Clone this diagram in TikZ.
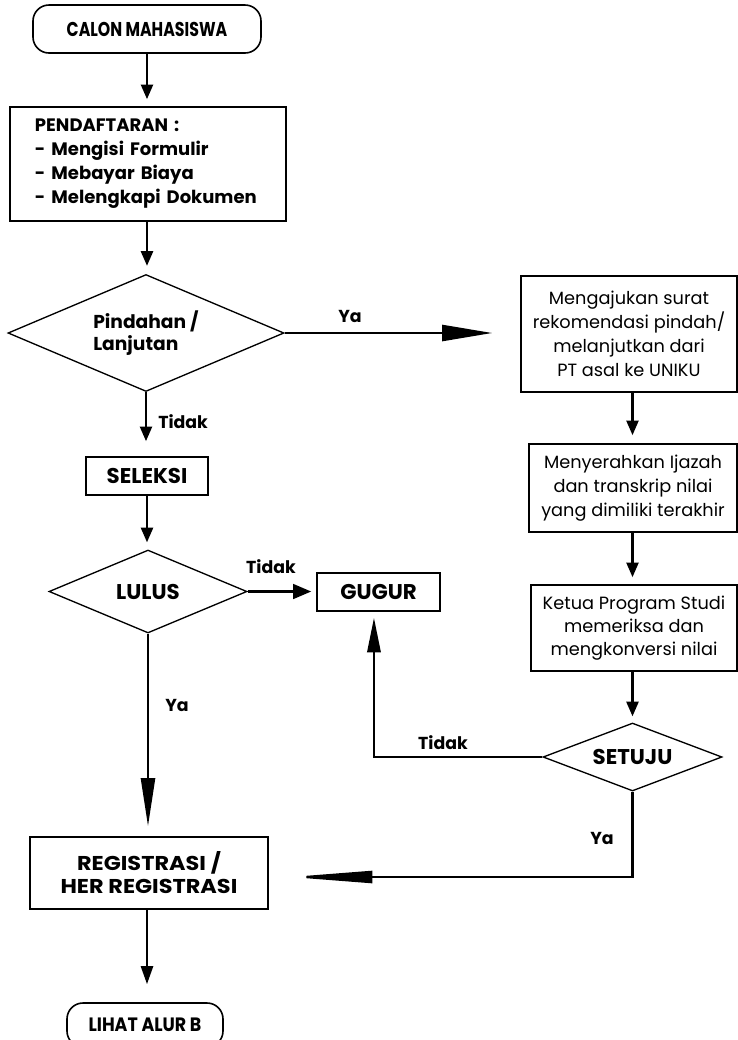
\documentclass[tikz,border=0pt]{standalone}
\usepackage{fontspec}
\setmainfont{Poppins}
\newfontfamily\condA[FakeStretch=0.79]{Poppins}
\newfontfamily\condB[FakeStretch=0.9]{Poppins}
\newfontfamily\wideB[FakeStretch=1.12]{Poppins}
\usetikzlibrary{arrows.meta,shapes.geometric}
\begin{document}
\begin{tikzpicture}[x=0.75pt,y=-0.75pt,
  box/.style={draw=black,line width=1.2pt,inner sep=0pt,align=center,text=black},
  term/.style={box,rounded corners=12pt},
  dia/.style={draw=black,line width=1pt,diamond,inner sep=0pt,align=center},
  conn/.style={line width=1.8pt,-{Triangle[length=11pt,width=9pt]},shorten >=5.25pt},
  lbl/.style={font=\bfseries\fontsize{13}{15}\selectfont,inner sep=0pt},
  body/.style={font=\fontsize{13.3}{18}\selectfont},
  head/.style={font=\bfseries\fontsize{16}{18}\selectfont},
]
\useasboundingbox (0,0) rectangle (738,1040);
\fill[white] (0,0) rectangle (738,1040);

% left column
\node[term,minimum width=171pt,minimum height=36pt,font=\condA\bfseries\fontsize{15}{18}\selectfont] (calon) at (147,29) {CALON MAHASISWA};
\node[box,minimum width=207pt,minimum height=85.5pt,text width=169.5pt,align=left,
      font=\bfseries\fontsize{13.5}{18}\selectfont] (daftar) at (148,164)
      {PENDAFTARAN :\\- Mengisi Formulir\\- Mebayar Biaya\\- Melengkapi Dokumen};
\node[dia,aspect=2.36,minimum width=207pt,minimum height=87.75pt,align=left,
      font=\bfseries\fontsize{14}{17}\selectfont] (pindah) at (146,333) {Pindahan /\\Lanjutan};
\node[box,head,minimum width=91.5pt,minimum height=28.5pt] (seleksi) at (147,476) {SELEKSI};
\node[dia,head,aspect=2.39,minimum width=148.5pt,minimum height=62.25pt] (lulus) at (148,591.5) {LULUS};
\node[box,head,minimum width=92.25pt,minimum height=28.5pt] (gugur) at (378.5,592) {GUGUR};
\node[box,minimum width=178.5pt,minimum height=54pt,
      font=\wideB\bfseries\fontsize{15}{17.25}\selectfont] (reg) at (149,873) {REGISTRASI /\\HER REGISTRASI};
\node[term,minimum width=117pt,minimum height=33pt,font=\condB\bfseries\fontsize{14.5}{17}\selectfont] (lihat) at (145,1025) {LIHAT ALUR B};

% right column
\node[box,body,minimum width=162pt,minimum height=87pt] (ajukan) at (629,334)
  {Mengajukan surat\\rekomendasi pindah/\\melanjutkan dari\\PT asal ke UNIKU};
\node[box,body,minimum width=156pt,minimum height=66pt] (serah) at (633,488)
  {Menyerahkan Ijazah\\dan transkrip nilai\\yang dimiliki terakhir};
\node[box,minimum width=154.5pt,minimum height=64.5pt,font=\fontsize{13.3}{17.3}\selectfont] (ketua) at (634,628)
  {Ketua Program Studi\\memeriksa dan\\mengkonversi nilai};
\node[dia,head,aspect=2.63,minimum width=134.25pt,minimum height=51pt] (setuju) at (632.5,757) {SETUJU};

% connectors
\draw[conn] (calon.south) -- (calon.south |- daftar.north);
\draw[conn,shorten >=6pt] (daftar.south -| calon.south) -- (pindah.north -| calon.south);
\draw[conn,-{Triangle[length=37.5pt,width=12pt]},shorten >=21pt] (pindah.east) -- (pindah.east -| ajukan.west);
\node[lbl] (ya1) at (350,316) {Ya};
\draw[conn,shorten >=11.25pt] (pindah.south) -- (pindah.south |- seleksi.north);
\node[lbl,anchor=west] (tidak1) at (158,422) {Tidak};
\draw[conn] (seleksi.south) -- (seleksi.south |- lulus.north);
\draw[conn,-{Triangle[length=13.5pt,width=11pt]},shorten >=3.75pt] (lulus.east) -- (lulus.east -| gugur.west);
\node[lbl] (tidak2) at (271,567) {Tidak};
\draw[conn,-{Triangle[length=36pt,width=10.5pt]},shorten >=7.5pt] (lulus.south) -- (lulus.south |- reg.north);
\node[lbl] (ya2) at (177,705) {Ya};

\draw[conn,shorten >=6pt] (ajukan.south -| setuju.north) -- (serah.north -| setuju.north);
\draw[conn] (serah.south -| setuju.north) -- (ketua.north -| setuju.north);
\draw[conn,shorten >=4.5pt] (ketua.south -| setuju.north) -- (setuju.north);
\draw[conn,-{Triangle[length=26pt,width=10pt]},shorten >=4.5pt] (setuju.west) -| ([xshift=-3.4pt]gugur.south);
\node[lbl] (tidak3) at (443,743) {Tidak};
\draw[conn,-{Triangle[length=62pt,width=9pt]},shorten >=15.75pt] (setuju.south) |- ([yshift=-3pt]reg.east);
\node[lbl] (ya3) at (602,838) {Ya};
\draw[conn,-{Triangle[length=13.5pt,width=9pt]},shorten >=13.5pt] (reg.south -| calon.south) -- (lihat.north -| calon.south);
\end{tikzpicture}
\end{document}
